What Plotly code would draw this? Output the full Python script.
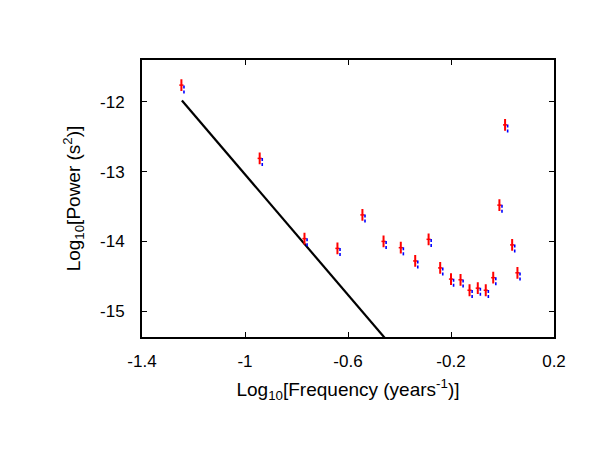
import plotly.graph_objects as go

# log10 frequency (years^-1) of each spectral bin
log_freq = [-1.247, -0.943, -0.769, -0.641, -0.544, -0.462, -0.395, -0.339, -0.287, -0.242,
            -0.200, -0.163, -0.128, -0.096, -0.065, -0.036, -0.012, 0.010, 0.0375, 0.058]

# log10 power (s^2), red estimate and its error
red_power = [-11.76, -12.81, -13.96, -14.10, -13.62, -14.00, -14.09, -14.28, -13.97, -14.38,
             -14.54, -14.55, -14.70, -14.67, -14.70, -14.52, -13.48, -12.33, -14.05, -14.45]
red_err = [0.07] * 20

# blue estimate, slightly below the red one
blue_power = [-11.81, -12.85, -14.00, -14.14, -13.66, -14.04, -14.13, -14.32, -14.01, -14.42,
              -14.58, -14.59, -14.74, -14.71, -14.74, -14.56, -13.52, -12.37, -14.09, -14.49]
blue_err = [0.07] * 20
blue_shift = 0.01

# power-law limit line
line_x = [-1.245, -0.40]
line_y = [-11.98, -15.63]

x_ticks = [-1.4, -1, -0.6, -0.2, 0.2]
x_labels = ["-1.4", "-1", "-0.6", "-0.2", "0.2"]
y_ticks = [-12, -13, -14, -15]
y_labels = ["-12", "-13", "-14", "-15"]

fig = go.Figure()

fig.add_trace(go.Scatter(
    x=line_x, y=line_y, mode="lines",
    line=dict(color="black", width=2.2), showlegend=False,
))

fig.add_trace(go.Scatter(
    x=log_freq, y=red_power, mode="markers",
    marker=dict(symbol="line-ew", size=3, color="red", line=dict(color="red", width=1.5)),
    error_y=dict(type="data", array=red_err, color="red", thickness=2, width=1),
    showlegend=False,
))

# blue dotted bars built from segments
bx, by = [], []
for f, p, e in zip(log_freq, blue_power, blue_err):
    bx += [f + blue_shift, f + blue_shift, None]
    by += [p - e, p + e, None]
fig.add_trace(go.Scatter(
    x=bx, y=by, mode="lines",
    line=dict(color="blue", width=1.6, dash="3px,2px"), showlegend=False,
))

axis_common = dict(
    showgrid=False, zeroline=False, ticks="inside", ticklen=5, tickwidth=1.2,
    tickcolor="black", mirror="allticks", showline=True, linecolor="black",
    linewidth=2, tickfont=dict(family="Liberation Sans, Arial", size=17, color="black"),
)

# page body adds an 8px offset, so the figure is sized to fit inside the window
fig.update_layout(
    width=583, height=447,
    margin=dict(l=134, r=37, t=52, b=118),
    plot_bgcolor="white", paper_bgcolor="white",
    font=dict(family="Liberation Sans, Arial", size=16, color="black"),
    xaxis=dict(
        range=[-1.4, 0.2], tickvals=x_ticks, ticktext=x_labels, ticklabelstandoff=8,
        title=dict(text="Log<sub>10</sub>[Frequency (years<sup>-1</sup>)]", standoff=12),
        **axis_common,
    ),
    yaxis=dict(
        range=[-15.37, -11.4], tickvals=y_ticks, ticktext=y_labels, ticklabelstandoff=12,
        title=dict(text="Log<sub>10</sub>[Power (s<sup>2</sup>)]", standoff=14),
        **axis_common,
    ),
)

fig.write_html("out.html")
